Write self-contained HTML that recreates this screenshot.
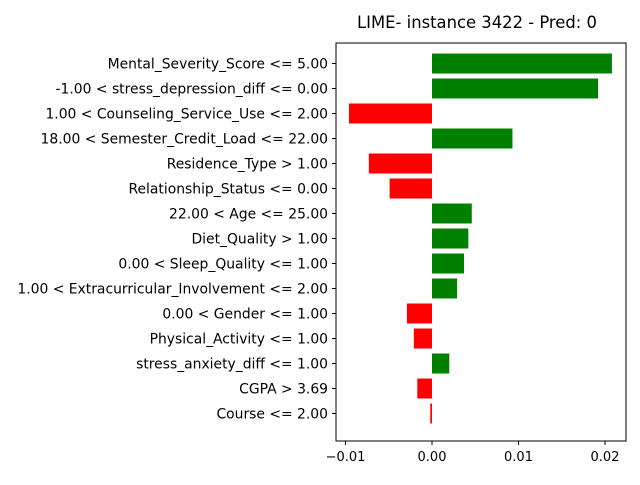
<!DOCTYPE html>
<html><head><meta charset="utf-8"><style>
body{margin:0;background:#fff;}
svg text{font-family:"DejaVu Sans","Liberation Sans",sans-serif;fill:#000;}
</style></head><body>
<svg id="chart" width="640" height="480" viewBox="0 0 640 480">
<text x="477" y="28" font-size="16.4" text-anchor="middle">LIME- instance 3422 - Pred: 0</text>
<rect x="336" y="43" width="290" height="398" fill="none" stroke="#000" stroke-width="1"/>
<g id="bars"></g><g id="ylabels"></g><g id="xticks"></g>
</svg>
<script>
const features=["Mental_Severity_Score <= 5.00","-1.00 < stress_depression_diff <= 0.00","1.00 < Counseling_Service_Use <= 2.00","18.00 < Semester_Credit_Load <= 22.00","Residence_Type > 1.00","Relationship_Status <= 0.00","22.00 < Age <= 25.00","Diet_Quality > 1.00","0.00 < Sleep_Quality <= 1.00","1.00 < Extracurricular_Involvement <= 2.00","0.00 < Gender <= 1.00","Physical_Activity <= 1.00","stress_anxiety_diff <= 1.00","CGPA > 3.69","Course <= 2.00"];
const weights=[0.0208,0.0192,-0.0096,0.0093,-0.0073,-0.0049,0.0046,0.0042,0.0037,0.0029,-0.0029,-0.0021,0.0020,-0.0017,-0.0002];
const xTicks=[-0.01,0,0.01,0.02];
const xTickLabels=["−0.01","0.00","0.01","0.02"];
const NS="http://www.w3.org/2000/svg";
const x=v=>432+v*8650;
const y=i=>63.5+i*25;
const bars=document.getElementById('bars'),yl=document.getElementById('ylabels'),xt=document.getElementById('xticks');
weights.forEach((w,i)=>{
 const r=document.createElementNS(NS,'rect');
 r.setAttribute('x',Math.min(x(0),x(w)));r.setAttribute('y',y(i)-10);
 r.setAttribute('width',Math.abs(x(w)-x(0)));r.setAttribute('height',20);
 r.setAttribute('fill',w>0?'#008000':'#ff0000');
 
 
 bars.appendChild(r);
 const t=document.createElementNS(NS,'line');
 t.setAttribute('x1',332);t.setAttribute('x2',336);t.setAttribute('y1',y(i));t.setAttribute('y2',y(i));t.setAttribute('stroke','#000');
 yl.appendChild(t);
 const l=document.createElementNS(NS,'text');
 l.setAttribute('x',328);l.setAttribute('y',y(i)+5);l.setAttribute('text-anchor','end');l.setAttribute('font-size','13.9');
 l.textContent=features[i];
 
 
 yl.appendChild(l);
});
xTicks.forEach((v,i)=>{
 const t=document.createElementNS(NS,'line');
 t.setAttribute('x1',x(v));t.setAttribute('x2',x(v));t.setAttribute('y1',441);t.setAttribute('y2',445);t.setAttribute('stroke','#000');
 xt.appendChild(t);
 const l=document.createElementNS(NS,'text');
 l.setAttribute('x',x(v));l.setAttribute('y',461);l.setAttribute('text-anchor','middle');l.setAttribute('font-size','13');
 l.textContent=xTickLabels[i];
 
 
 xt.appendChild(l);
});
</script>
</body></html>
